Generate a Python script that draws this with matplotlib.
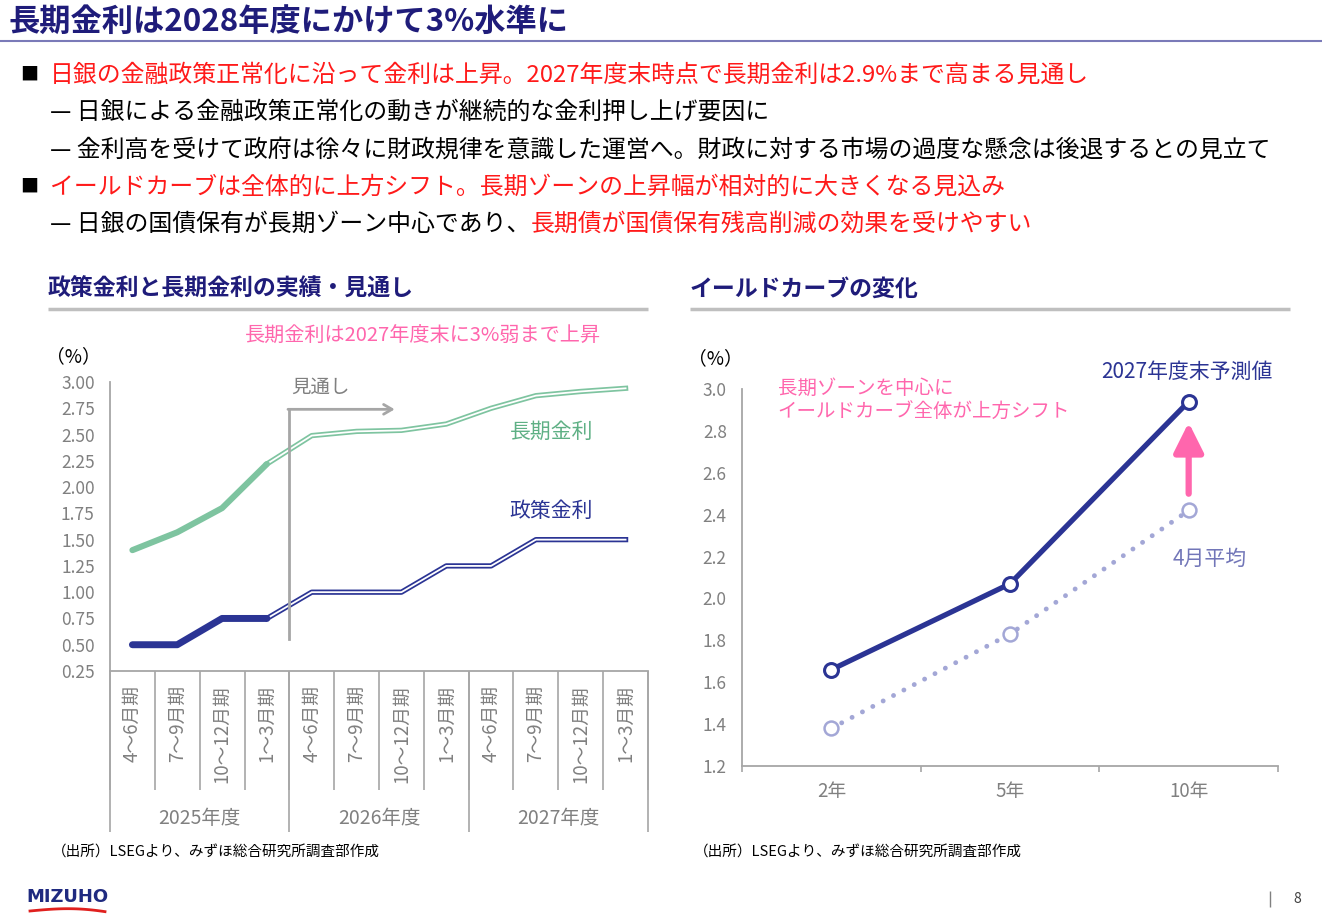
import matplotlib
matplotlib.use("Agg")
import matplotlib.pyplot as plt
import numpy as np

plt.rcParams['font.family'] = ['Noto Sans CJK JP', 'DejaVu Sans']

# --- left chart: policy rate and long-term rate (actual / outlook)
quarters = ["4～6月期", "7～9月期", "10～12月期", "1～3月期"] * 3
fiscal_years = ["2025年度", "2026年度", "2027年度"]
long_rate = [1.40, 1.57, 1.80, 2.22, 2.49, 2.53, 2.54, 2.60, 2.75, 2.87, 2.91, 2.94]
policy_rate = [0.50, 0.50, 0.75, 0.75, 1.00, 1.00, 1.00, 1.25, 1.25, 1.50, 1.50, 1.50]
n_actual = 4

# --- right chart: yield curve
maturities = ["2年", "5年", "10年"]
forecast_2027 = [1.66, 2.07, 2.94]
april_avg = [1.38, 1.83, 2.42]

W, H = 1322, 924
NAVY = '#2B3494'
TITLE_NAVY = '#1F1C7A'
GREEN = '#7EC4A0'
RED = '#FF1A1A'
PINK = '#FF66AD'
GRAY = '#808080'
AXGRAY = '#A6A6A6'
LPURPLE = '#A3A7D6'

fig = plt.figure(figsize=(W / 100, H / 100), dpi=100)

# background axes in pixel coordinates for the slide text
bg = fig.add_axes([0, 0, 1, 1])
bg.set_xlim(0, W)
bg.set_ylim(H, 0)
bg.axis('off')

bg.text(8, 22, "長期金利は2028年度にかけて3%水準に", fontsize=22.5, fontweight='bold',
        color=TITLE_NAVY, va='center', ha='left')
bg.hlines(41, 0, W, color='#7A7AB8', lw=1.5)

body = 17.2
bg.text(20, 75, "■", fontsize=13, va='center')
bg.text(50, 75, "日銀の金融政策正常化に沿って金利は上昇。2027年度末時点で長期金利は2.9%まで高まる見通し",
        fontsize=body, color=RED, va='center')
bg.text(50, 112, "— 日銀による金融政策正常化の動きが継続的な金利押し上げ要因に",
        fontsize=body, va='center')
bg.text(50, 150, "— 金利高を受けて政府は徐々に財政規律を意識した運営へ。財政に対する市場の過度な懸念は後退するとの見立て",
        fontsize=body, va='center')
bg.text(20, 187, "■", fontsize=13, va='center')
bg.text(50, 187, "イールドカーブは全体的に上方シフト。長期ゾーンの上昇幅が相対的に大きくなる見込み",
        fontsize=body, color=RED, va='center')
t5 = bg.text(50, 224, "— 日銀の国債保有が長期ゾーン中心であり、", fontsize=body, va='center')
bg.annotate("長期債が国債保有残高削減の効果を受けやすい", xy=(1, 0), xycoords=t5,
            fontsize=body, color=RED, va='bottom', ha='left')

# section headers
bg.text(48, 289, "政策金利と長期金利の実績・見通し", fontsize=16.5, fontweight='bold',
        color=TITLE_NAVY, va='center')
bg.hlines(309, 48, 648, color='#BFBFBF', lw=2.5)
bg.text(690, 289, "イールドカーブの変化", fontsize=16.5, fontweight='bold',
        color=TITLE_NAVY, va='center')
bg.hlines(309, 690, 1290, color='#BFBFBF', lw=2.5)

bg.text(46, 357, "（%）", fontsize=13.5, va='center')
bg.text(688, 359, "（%）", fontsize=13.5, va='center')

bg.text(52, 853, "（出所）LSEGより、みずほ総合研究所調査部作成", fontsize=10.5, va='center')
bg.text(694, 853, "（出所）LSEGより、みずほ総合研究所調査部作成", fontsize=10.5, va='center')

# footer
bg.text(26, 897, "MIZUHO", fontsize=13, fontweight='bold', color='#1F2A80',
        va='center', family='DejaVu Sans')
sw = np.linspace(0, 1, 30)
bg.plot(30 + 75 * sw, 911 - 4 * np.sin(np.pi * sw * 0.8) + 3 * sw, color='#E0201E', lw=2)
bg.vlines(1270, 891, 907, color=GRAY, lw=1)
bg.text(1293, 899, "8", fontsize=10, va='center', color='#404040')

# ---------------- left chart
ax1 = fig.add_axes([110 / W, 1 - 671 / H, 538 / W, 289 / H])
x = np.arange(len(quarters)) + 0.5
k = n_actual - 1
ax1.plot(x[k:], long_rate[k:], color=GREEN, lw=3.8)
ax1.plot(x[k:], long_rate[k:], color='white', lw=1.3)
ax1.plot(x[:n_actual], long_rate[:n_actual], color=GREEN, lw=4.4, solid_capstyle='round')
ax1.plot(x[k:], policy_rate[k:], color=NAVY, lw=3.8)
ax1.plot(x[k:], policy_rate[k:], color='white', lw=1.3)
ax1.plot(x[:n_actual], policy_rate[:n_actual], color=NAVY, lw=5, solid_capstyle='round')

ax1.set_xlim(0, 12)
ax1.set_ylim(0.25, 3.0)
yt = np.round(np.arange(0.25, 3.001, 0.25), 2)
ax1.set_yticks(yt, [f"{v:.2f}" for v in yt])
ax1.tick_params(axis='y', length=0, pad=11, labelsize=12.5, labelcolor=GRAY)
for s in ['top', 'right']:
    ax1.spines[s].set_visible(False)
for s in ['left', 'bottom']:
    ax1.spines[s].set_color(AXGRAY)
    ax1.spines[s].set_linewidth(1.3)
ax1.set_xticks(np.arange(13), [])
ax1.set_xticks(x, quarters, minor=True)
ax1.tick_params(axis='x', which='major', length=86, width=1.2, color=AXGRAY)
ax1.tick_params(axis='x', which='minor', length=0, pad=10, labelsize=13.5,
                labelcolor=GRAY, labelrotation=90)

sec = ax1.secondary_xaxis('bottom')
sec.set_xticks([0, 4, 8, 12], [])
sec.set_xticks([2, 6, 10], fiscal_years, minor=True)
sec.tick_params(axis='x', which='major', length=116, width=1.2, color=AXGRAY)
sec.tick_params(axis='x', which='minor', length=0, pad=99, labelsize=14, labelcolor=GRAY)
sec.spines['bottom'].set_visible(False)

ax1.plot([4, 4], [0.55, 2.74], color=AXGRAY, lw=2)
ax1.annotate("", xy=(6.35, 2.74), xytext=(3.97, 2.74),
             arrowprops=dict(arrowstyle='->,head_width=0.35,head_length=0.6',
                             color=AXGRAY, lw=2, shrinkA=0, shrinkB=0))
ax1.text(4.7, 2.95, "見通し", fontsize=14, color=GRAY, ha='center', va='center')
ax1.text(9.84, 2.53, "長期金利", fontsize=15, color='#5FB085', ha='center', va='center')
ax1.text(9.84, 1.77, "政策金利", fontsize=15, color=NAVY, ha='center', va='center')
ax1.text(6.98, 3.44, "長期金利は2027年度末に3%弱まで上昇", fontsize=14.5, color=PINK,
         ha='center', va='center')

# ---------------- right chart
ax2 = fig.add_axes([742 / W, 1 - 766 / H, 536 / W, 377 / H])
xr = np.arange(len(maturities)) + 0.5
ax2.plot(xr, april_avg, color=LPURPLE, lw=3.5, linestyle=(0, (0.01, 2.4)),
         dash_capstyle='round', zorder=2)
ax2.plot(xr, april_avg, 'o', ms=10, mfc='white', mec=LPURPLE, mew=1.8, zorder=3)
ax2.plot(xr, forecast_2027, color=NAVY, lw=3.8, marker='o', ms=10, mfc='white',
         mec=NAVY, mew=2.2, zorder=4)
ax2.annotate("", xy=(2.5, 2.84), xytext=(2.5, 2.50),
             arrowprops=dict(arrowstyle='-|>,head_width=0.45,head_length=0.9',
                             color=PINK, lw=4.5, shrinkA=0, shrinkB=0, mutation_scale=20))

ax2.set_xlim(0, 3)
ax2.set_ylim(1.2, 3.0)
yt2 = np.round(np.arange(1.2, 3.001, 0.2), 1)
ax2.set_yticks(yt2, [f"{v:.1f}" for v in yt2])
ax2.tick_params(axis='y', length=0, pad=11, labelsize=12.5, labelcolor=GRAY)
for s in ['top', 'right']:
    ax2.spines[s].set_visible(False)
for s in ['left', 'bottom']:
    ax2.spines[s].set_color(AXGRAY)
    ax2.spines[s].set_linewidth(1.3)
ax2.set_xticks(np.arange(4), [])
ax2.set_xticks(xr, maturities, minor=True)
ax2.tick_params(axis='x', which='major', length=4, width=1.2, color=AXGRAY)
ax2.tick_params(axis='x', which='minor', length=0, pad=11, labelsize=13.5, labelcolor=GRAY)

ax2.text(2.49, 3.08, "2027年度末予測値", fontsize=15, color=NAVY, ha='center', va='center')
ax2.text(2.62, 2.19, "4月平均", fontsize=15, color='#7276B8', ha='center', va='center')
ax2.text(0.2, 3.005, "長期ゾーンを中心に", fontsize=14, color=PINK, ha='left', va='center')
ax2.text(0.2, 2.886, "イールドカーブ全体が上方シフト", fontsize=14, color=PINK,
         ha='left', va='center')

fig.savefig("out.png", dpi=100)
